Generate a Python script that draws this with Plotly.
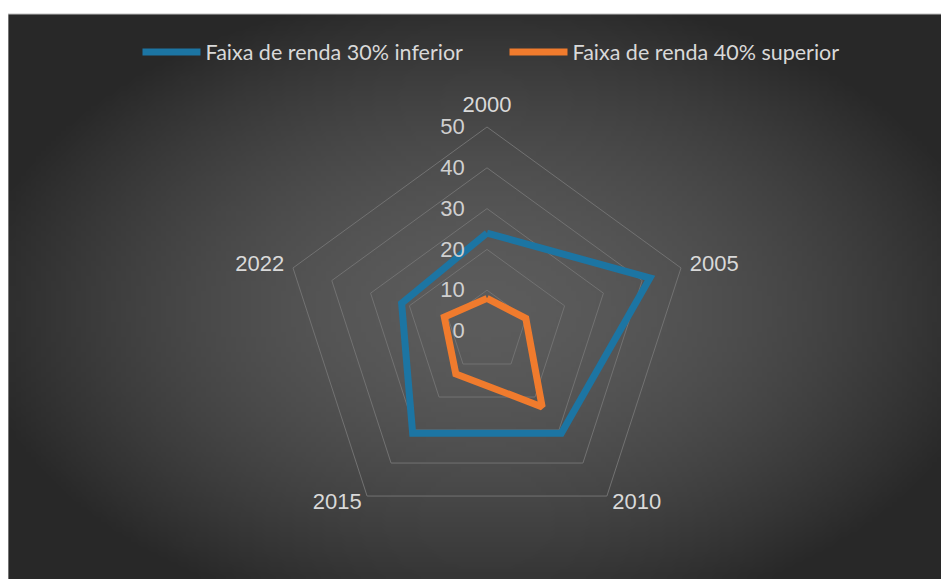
import base64, struct, zlib
import plotly.graph_objects as go

categories = ["2000", "2005", "2010", "2015", "2022"]
series_names = ["Faixa de renda 30% inferior", "Faixa de renda 40% superior"]
low_30 = [24, 42, 31, 31, 22]
top_40 = [8, 10, 23, 13, 11]
radial_ticks = [0, 10, 20, 30, 40, 50]

# page body has an 8px margin; figure sized to fill the rest of the window
W, H = 941, 571


def gradient_png(w, h):
    cx, cy = 0.505 * w, 0.52 * h
    rx, ry = 0.5 * w, 0.52 * h
    rows = []
    for j in range(h):
        row = bytearray([0])
        for i in range(w):
            d = (((i - cx) / rx) ** 2 + ((j - cy) / ry) ** 2) ** 0.5
            v = 92 - 44 * min(d, 1.15) ** 1.7
            v = int(max(40, min(95, v)))
            row += bytes([v, v, v])
        rows.append(bytes(row))
    raw = b"".join(rows)

    def chunk(tag, data):
        c = struct.pack(">I", len(data)) + tag + data
        return c + struct.pack(">I", zlib.crc32(tag + data) & 0xffffffff)

    png = b"\x89PNG\r\n\x1a\n"
    png += chunk(b"IHDR", struct.pack(">IIBBBBB", w, h, 8, 2, 0, 0, 0))
    png += chunk(b"IDAT", zlib.compress(raw, 9))
    png += chunk(b"IEND", b"")
    return "data:image/png;base64," + base64.b64encode(png).decode()


bg_img = gradient_png(188, 113)

fig = go.Figure()
fig.add_trace(go.Scatterpolar(
    r=low_30 + low_30[:1], theta=categories + categories[:1],
    mode="lines", name=series_names[0],
    line=dict(color="#1C75A3", width=7),
))
fig.add_trace(go.Scatterpolar(
    r=top_40 + top_40[:1], theta=categories + categories[:1],
    mode="lines", name=series_names[1],
    line=dict(color="#F07B2D", width=7),
))

# category labels placed just outside the outer ring (radial range extended slightly)
r_max = radial_ticks[-1]
r_range_max = r_max * 1.05
label_r = r_max * 1.045
label_pos = ["top center", "middle right", "middle right", "middle left", "middle left"]
fig.add_trace(go.Scatterpolar(
    r=[label_r] * len(categories), theta=categories, text=categories,
    mode="text", textposition=label_pos, cliponaxis=False, showlegend=False,
    hoverinfo="skip",
    textfont=dict(family="Liberation Sans, Arial, sans-serif", size=22, color="#d9d9d9"),
))

y1 = 1 - 6 / H
fig.add_layout_image(dict(source=bg_img, xref="paper", yref="paper", x=0, y=y1,
                          sizex=1, sizey=y1, sizing="stretch", xanchor="left",
                          yanchor="top", layer="below"))
fig.add_shape(type="rect", xref="paper", yref="paper", x0=0, x1=1.01, y0=-0.01, y1=y1,
              fillcolor="rgba(0,0,0,0)", line=dict(color="#bfbfbf", width=1), layer="below")

cx, cy, R50 = 479, 323, 204
R = R50 * r_range_max / r_max
fig.update_layout(
    width=W, height=H,
    margin=dict(l=0, r=0, t=0, b=0),
    paper_bgcolor="white",
    font=dict(family="Liberation Sans, Arial, sans-serif", color="#d9d9d9"),
    showlegend=True,
    legend=dict(orientation="h", x=0.5 + 26 / W, xanchor="center", y=1 - 44 / H,
                yanchor="middle",
                font=dict(family="Lato, sans-serif", size=21.5, color="#d9d9d9"),
                itemwidth=58, entrywidth=294, entrywidthmode="pixels",
                bgcolor="rgba(0,0,0,0)"),
    polar=dict(
        domain=dict(x=[(cx - R) / W, (cx + R) / W], y=[(H - cy - R) / H, (H - cy + R) / H]),
        bgcolor="rgba(0,0,0,0)",
        gridshape="linear",
        radialaxis=dict(range=[0, r_range_max], tickvals=radial_ticks, angle=90, tickangle=90,
                        side="counterclockwise",
                        showline=False, gridcolor="#727272", gridwidth=1,
                        ticks="outside", ticklen=14, tickcolor="rgba(0,0,0,0)",
                        tickfont=dict(size=22, color="#d0d0d0")),
        angularaxis=dict(direction="clockwise", rotation=90, showgrid=False,
                         showline=False, ticks="", showticklabels=False),
    ),
)

fig.write_html("out.html")
